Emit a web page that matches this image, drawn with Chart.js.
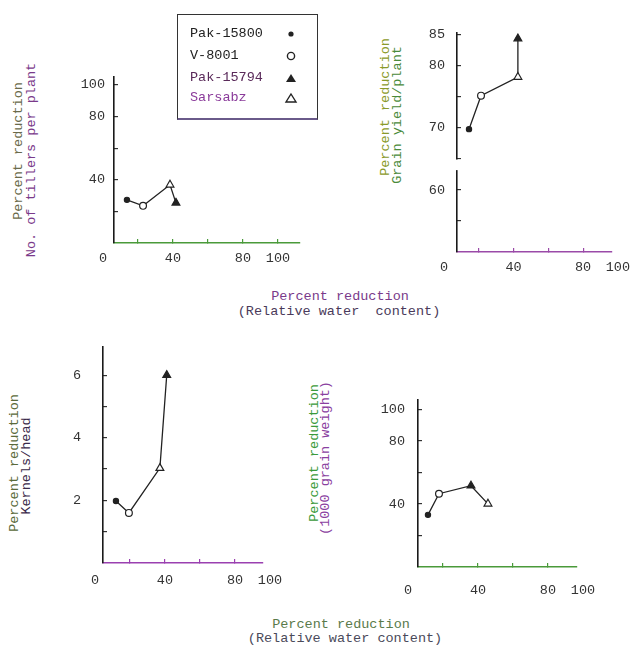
<!DOCTYPE html>
<html><head><meta charset="utf-8">
<script src="https://cdn.jsdelivr.net/npm/chart.js@4.4.1/dist/chart.umd.min.js"></script>
<style>
html,body{margin:0;padding:0;background:#fff;width:632px;height:645px;overflow:hidden;position:relative;font-family:"Liberation Mono",monospace;}
canvas{position:absolute;}
.t{position:absolute;white-space:pre;font-size:13.5px;line-height:1;transform:translate(-50%,-50%) rotate(-90deg);}
.h{position:absolute;white-space:pre;font-size:13.5px;line-height:1;transform:translate(-50%,-50%);}
#legend{position:absolute;left:177px;top:14px;width:139px;height:103px;border:1px solid #333;border-bottom:2px solid #6a5a8a;}
#legend span{position:absolute;left:12px;white-space:pre;font-size:13.5px;line-height:1;transform:translateY(-50%);}
#legend svg{position:absolute;left:106px;width:14px;height:14px;transform:translateY(-50%);}
</style></head>
<body>
<canvas id="c1"></canvas><canvas id="c2"></canvas><canvas id="c3"></canvas><canvas id="c4"></canvas>

<div id="legend">
 <span style="top:19px;color:#222">Pak-15800</span><svg style="top:19px" viewBox="0 0 14 14"><circle cx="7" cy="7" r="2.6" fill="#222"/></svg>
 <span style="top:41px;color:#222">V-8001</span><svg style="top:41px" viewBox="0 0 14 14"><circle cx="7" cy="7" r="3.6" fill="#fff" stroke="#222" stroke-width="1.4"/></svg>
 <span style="top:63px;color:#5a2a5a">Pak-15794</span><svg style="top:63px" viewBox="0 0 14 14"><polygon points="7,3 12,11 2,11" fill="#222"/></svg>
 <span style="top:83px;color:#8a3a9a">Sarsabz</span><svg style="top:83px" viewBox="0 0 14 14"><polygon points="7,3 12,11 2,11" fill="#fff" stroke="#222" stroke-width="1.4"/></svg>
</div>

<div class="t" style="left:19px;top:151px;color:#6a6a4a">Percent reduction</div>
<div class="t" style="left:32px;top:160px;color:#7a3a8a">No. of tillers per plant</div>
<div class="t" style="left:386px;top:107px;color:#8a9a2a">Percent reduction</div>
<div class="t" style="left:398px;top:115px;color:#4a8a3a">Grain yield/plant</div>
<div class="t" style="left:15px;top:463px;color:#5a6a3a">Percent reduction</div>
<div class="t" style="left:27px;top:466px;color:#3a2a4a">Kernels/head</div>
<div class="t" style="left:315px;top:453px;color:#3a9a3a">Percent reduction</div>
<div class="t" style="left:326px;top:458px;color:#8a40a0">(1000 grain weight)</div>

<div class="h" style="left:340px;top:297px;color:#7a3a8a">Percent reduction</div>
<div class="h" style="left:339px;top:312px;color:#4a3a5a">(Relative water  content)</div>
<div class="h" style="left:341px;top:625px;color:#5a7a4a">Percent reduction</div>
<div class="h" style="left:345px;top:639px;color:#4a4a5a">(Relative water content)</div>

<script>
// ---- data ----
const cultivars = ['Pak-15800', 'V-8001', 'Pak-15794', 'Sarsabz'];
// x: percent reduction in relative water content, y: percent reduction in trait
const tillersX = [13.7, 22.9, 41.7, 38.3];
const tillersY = [27.3, 23.5, 25.4, 36.8];
const grainYieldX = [14.4, 21.3, 42.5, 42.5];
const grainYieldY = [69.8, 75.2, 84.4, 78.2];
const kernelsX = [12.0, 19.4, 41.0, 37.1];
const kernelsY = [1.98, 1.6, 6.0, 3.03];
const grainWeightX = [11.4, 17.7, 36.0, 45.7];
const grainWeightY = [33.1, 46.5, 51.6, 40.1];
// order in which the connecting line visits the cultivars (indices into cultivars)
const tillersPath = [0, 1, 3, 2];
const grainYieldPath = [0, 1, 3, 2];
const kernelsPath = [0, 1, 3, 2];
const grainWeightPath = [0, 1, 2, 3];
// tick marks and tick labels
const xTickValues = [0, 20, 40, 60, 80, 100];
const xTickLabels = [0, 40, 80, 100];
const tillersTicks = [20, 40, 60, 80, 100];
const tillersLabels = [40, 80, 100];
const grainYieldTicks = [55, 60, 65, 70, 75, 80, 85];
const grainYieldLabels = [60, 70, 80, 85];
const kernelsTicks = [1, 2, 3, 4, 5, 6];
const kernelsLabels = [2, 4, 6];
const grainWeightTicks = [20, 40, 60, 80, 100];
const grainWeightLabels = [40, 80, 100];

// ---- styling ----
const markerStyles = [
  {shape: 'circle', r: 2.6, fill: '#222'},
  {shape: 'circle', r: 3.4, fill: '#fff'},
  {shape: 'triangle', r: 4.5, fill: '#222'},
  {shape: 'triangle', r: 4.5, fill: '#fff'}
];
const FONT = {family: 'Liberation Mono', size: 13.5};
const TXT = '#333';
const TICK = -4; // inward tick marks
const CLEAR = 'rgba(0,0,0,0)';

const axisBreak = {
  id: 'axisBreak',
  afterDraw(chart, args, opts) {
    if (!opts || opts.from === undefined) return;
    const y = chart.scales.y, x = chart.chartArea.left, ctx = chart.ctx;
    const a = y.getPixelForValue(opts.from), b = y.getPixelForValue(opts.to);
    ctx.save(); ctx.fillStyle = '#fff'; ctx.fillRect(x - 4, a, 8, b - a); ctx.restore();
  }
};

const panels = [
  {id: 'c1', xs: tillersX, ys: tillersY, path: tillersPath, yTicks: tillersTicks, yLabels: tillersLabels,
   xMin: 6.3, xMax: 112.6, yMin: 0, yMax: 105, left: 74, top: 67, w: 246, h: 206,
   xColor: '#4a9a3a', xPad: 4, yPad: 6},
  {id: 'c2', xs: grainYieldX, ys: grainYieldY, path: grainYieldPath, yTicks: grainYieldTicks, yLabels: grainYieldLabels,
   xMin: 7.5, xMax: 96.6, yMin: 50, yMax: 85.3, left: 417, top: 23, w: 215, h: 259,
   xColor: '#9a4aa8', xDash: [6, 2], xPad: 4, yPad: 9, brk: {from: 64.9, to: 63.2}},
  {id: 'c3', xs: kernelsX, ys: kernelsY, path: kernelsPath, yTicks: kernelsTicks, yLabels: kernelsLabels,
   xMin: 4.6, xMax: 96, yMin: 0, yMax: 6.9, left: 63, top: 337, w: 220, h: 256,
   xColor: '#9a40b0', xPad: 6, yPad: 19},
  {id: 'c4', xs: grainWeightX, ys: grainWeightY, path: grainWeightPath, yTicks: grainWeightTicks, yLabels: grainWeightLabels,
   xMin: 5.7, xMax: 96.6, yMin: 0, yMax: 106, left: 378, top: 390, w: 219, h: 207,
   xColor: '#4a9a3a', xDash: [5, 2], xPad: 12, yPad: 10}
];

panels.forEach(p => {
  const cv = document.getElementById(p.id);
  cv.width = p.w; cv.height = p.h;
  cv.style.left = p.left + 'px'; cv.style.top = p.top + 'px';
  const datasets = [{
    type: 'line', label: 'path',
    data: p.path.map(i => ({x: p.xs[i], y: p.ys[i]})),
    borderColor: '#222', borderWidth: 1.3, pointRadius: 0, fill: false, tension: 0, order: 10
  }];
  cultivars.forEach((name, i) => {
    const s = markerStyles[i];
    datasets.push({
      type: 'scatter', label: name, data: [{x: p.xs[i], y: p.ys[i]}],
      pointStyle: s.shape, pointRadius: s.r, backgroundColor: s.fill,
      borderColor: '#222', borderWidth: 1.2, order: 1
    });
  });
  const inX = c => c.tick && c.tick.value > p.xMin && c.tick.value <= p.xMax;
  new Chart(cv, {
    type: 'scatter',
    data: {datasets},
    options: {
      responsive: false, animation: false, devicePixelRatio: 1,
      layout: {padding: {top: 10, right: 20, left: 0, bottom: 0}},
      plugins: {legend: {display: false}, tooltip: {enabled: false}, axisBreak: p.brk || {}},
      scales: {
        x: {
          type: 'linear', min: p.xMin, max: p.xMax,
          grid: {drawOnChartArea: false, tickLength: TICK, lineWidth: 1.2,
                 color: c => inX(c) ? p.xColor : CLEAR, tickColor: c => inX(c) ? p.xColor : CLEAR},
          border: {color: p.xColor, width: 1.6, dash: p.xDash || []},
          ticks: {autoSkip: false, maxRotation: 0, padding: p.xPad + 3 - TICK, font: FONT, color: TXT,
                  callback: v => xTickLabels.includes(v) ? String(v) : ''},
          afterBuildTicks: s => { s.ticks = xTickValues.map(v => ({value: v})); },
          afterFit: s => { s.height = 30; s.paddingLeft = 0; s.paddingRight = 0; }
        },
        y: {
          type: 'linear', min: p.yMin, max: p.yMax,
          grid: {drawOnChartArea: false, tickLength: TICK, color: '#333', lineWidth: 1.2},
          border: {color: '#1a1a1a', width: 1.6},
          ticks: {autoSkip: false, padding: p.yPad + 3 - TICK, font: FONT, color: TXT,
                  callback: v => p.yLabels.includes(v) ? String(v) : ''},
          afterBuildTicks: s => { s.ticks = p.yTicks.map(v => ({value: v})); },
          afterFit: s => { s.width = 40; s.paddingTop = 0; s.paddingBottom = 0; }
        }
      }
    },
    plugins: [axisBreak]
  });
});
</script>
</body></html>
